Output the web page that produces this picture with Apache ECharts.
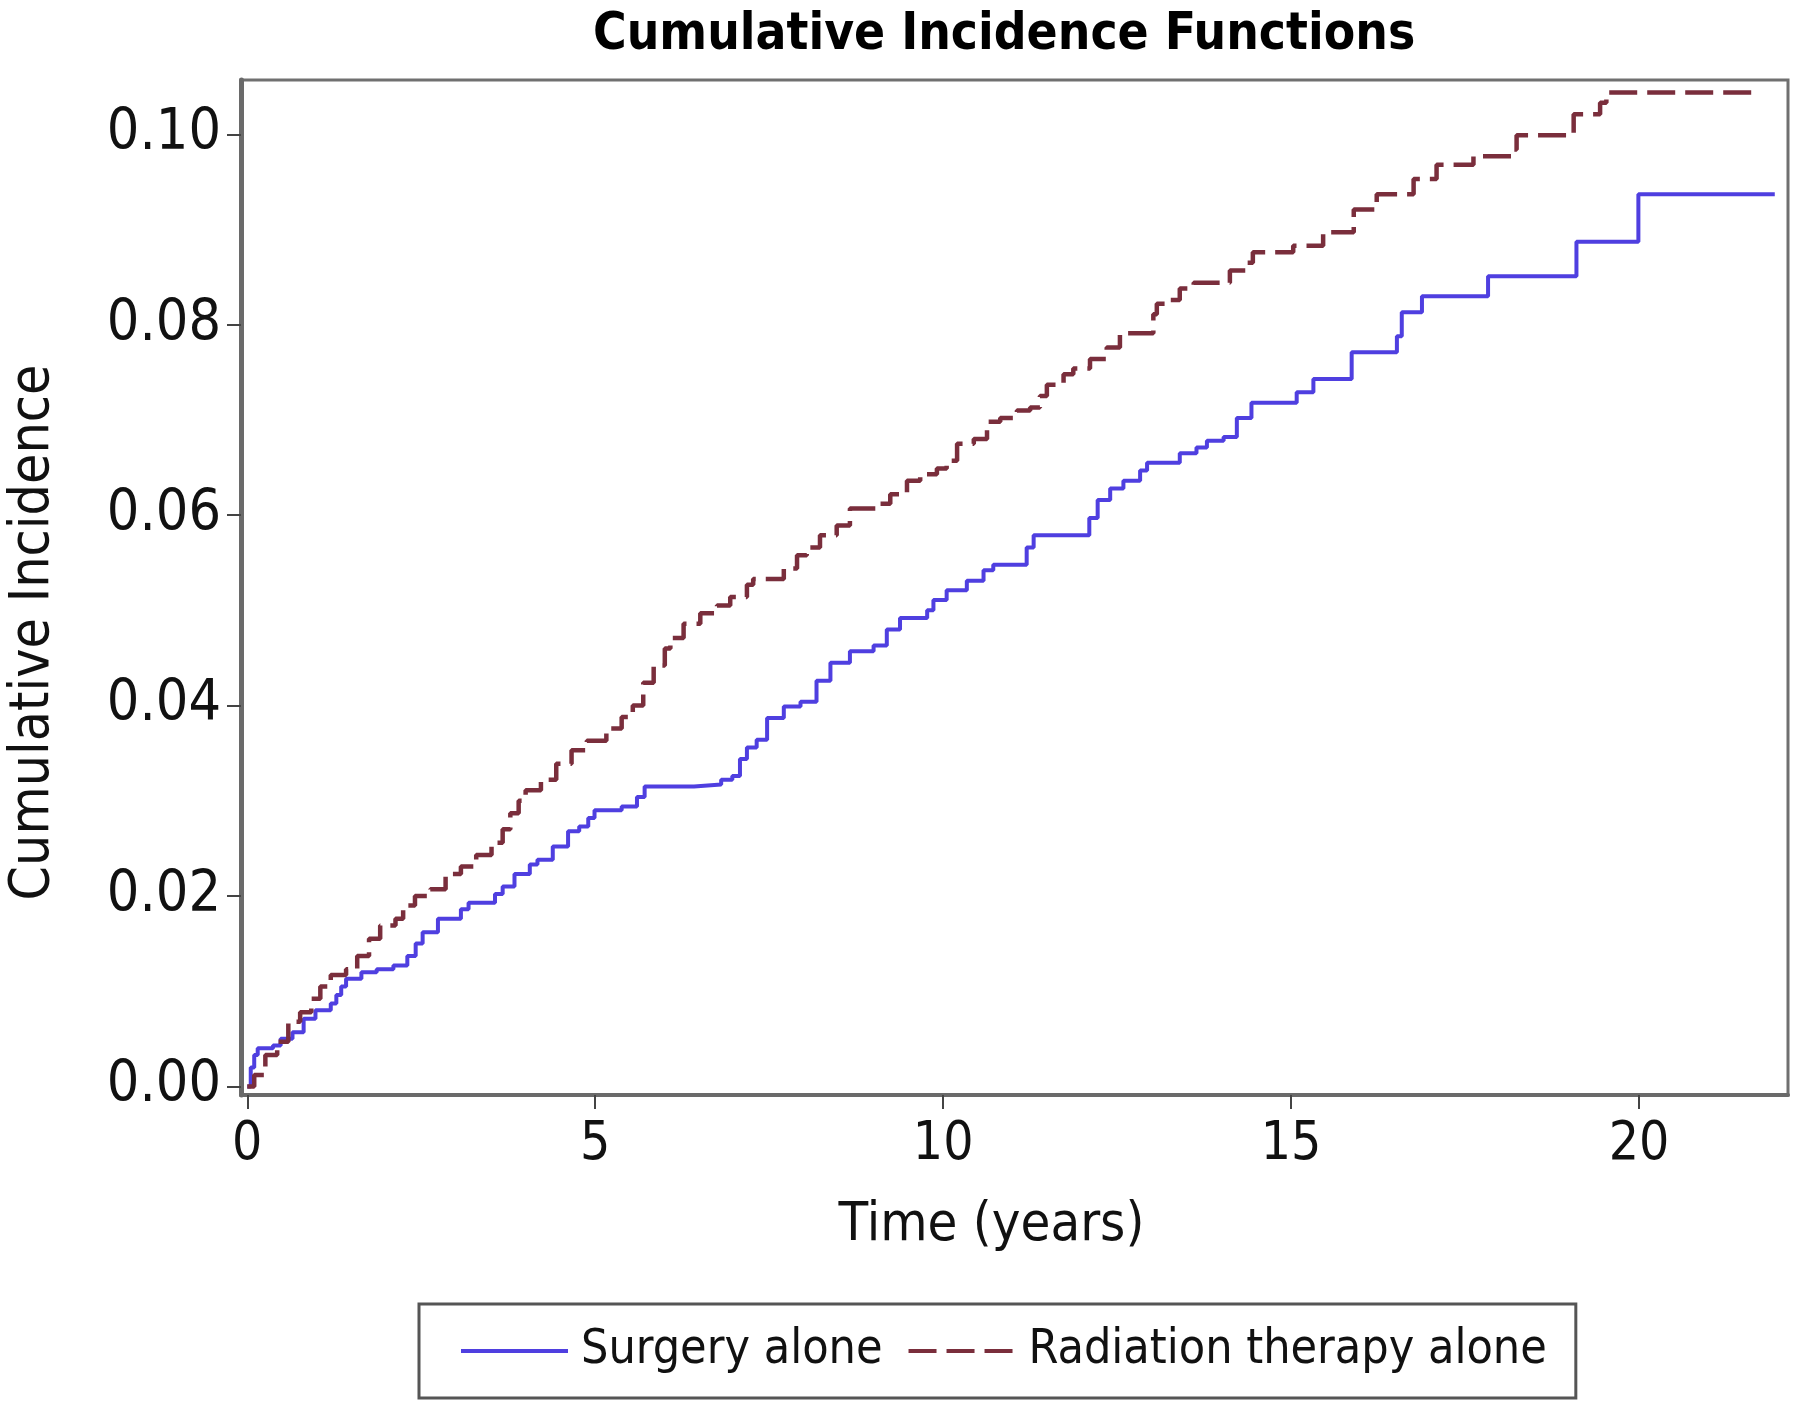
<!DOCTYPE html>
<html><head><meta charset="utf-8">
<script src="https://cdn.jsdelivr.net/npm/echarts@6/dist/echarts.min.js"></script>
<style>html,body{margin:0;padding:0;background:#fff}#c{width:1798px;height:1408px}</style>
</head><body><div id="c"></div>
<script>
const chartTitle = 'Cumulative Incidence Functions';
const xAxisTitle = 'Time (years)';
const yAxisTitle = 'Cumulative Incidence';
const seriesNames = ['Surgery alone', 'Radiation therapy alone'];
const xTicks = [0, 5, 10, 15, 20];
const yTicks = [0, 0.02, 0.04, 0.06, 0.08, 0.10];

const surgeryTime = [0, 0.05, 0.1, 0.15, 0.37, 0.48, 0.65, 0.81, 0.98, 1.2, 1.28, 1.35, 1.42, 1.64, 1.86, 2.1, 2.3, 2.42, 2.52, 2.74, 3.07, 3.18, 3.56, 3.67, 3.84, 4.06, 4.17, 4.39, 4.61, 4.77, 4.9, 4.99, 5.38, 5.6, 5.71, 6.42, 6.81, 6.97, 7.08, 7.18, 7.32, 7.47, 7.71, 7.95, 8.18, 8.38, 8.66, 9.0, 9.19, 9.38, 9.77, 9.86, 10.05, 10.34, 10.58, 10.72, 11.2, 11.3, 12.1, 12.22, 12.4, 12.59, 12.83, 12.93, 13.4, 13.64, 13.79, 14.03, 14.22, 14.43, 15.08, 15.32, 15.87, 16.52, 16.59, 16.88, 17.83, 19.1, 19.99, 21.95];
const surgeryCI = [0, 0.002, 0.0033, 0.004, 0.0043, 0.005, 0.0057, 0.0071, 0.008, 0.0087, 0.0096, 0.0105, 0.0113, 0.012, 0.0123, 0.0127, 0.0137, 0.015, 0.0162, 0.0176, 0.0186, 0.0193, 0.0202, 0.021, 0.0223, 0.0233, 0.0238, 0.0252, 0.0268, 0.0273, 0.0282, 0.029, 0.0294, 0.0304, 0.0315, 0.0317, 0.0322, 0.0326, 0.0344, 0.0356, 0.0364, 0.0387, 0.0399, 0.0404, 0.0426, 0.0445, 0.0457, 0.0463, 0.048, 0.0492, 0.05, 0.0511, 0.0521, 0.0531, 0.0542, 0.0548, 0.0566, 0.0579, 0.0597, 0.0616, 0.0628, 0.0636, 0.0647, 0.0655, 0.0665, 0.0671, 0.0678, 0.0682, 0.0702, 0.0718, 0.0729, 0.0743, 0.0771, 0.0788, 0.0813, 0.083, 0.0851, 0.0887, 0.0937, 0.0937];

const radiationTime = [0, 0.1, 0.26, 0.43, 0.59, 0.76, 0.92, 1.05, 1.2, 1.42, 1.58, 1.75, 1.91, 2.13, 2.24, 2.41, 2.63, 2.85, 3.07, 3.29, 3.51, 3.67, 3.78, 3.9, 4.0, 4.22, 4.44, 4.66, 4.88, 5.16, 5.38, 5.54, 5.69, 5.84, 6.0, 6.08, 6.27, 6.51, 6.75, 6.94, 7.18, 7.27, 7.71, 7.9, 8.04, 8.23, 8.47, 8.66, 9.05, 9.24, 9.48, 9.67, 9.91, 10.05, 10.2, 10.44, 10.63, 10.82, 11.06, 11.25, 11.39, 11.49, 11.73, 11.87, 12.11, 12.35, 12.54, 13.02, 13.07, 13.26, 13.4, 13.6, 14.12, 14.36, 14.45, 15.03, 15.46, 15.9, 16.23, 16.76, 17.09, 17.62, 18.19, 18.24, 19.06, 19.44, 19.53, 21.7];
const radiationCI = [0, 0.0012, 0.0033, 0.0047, 0.0068, 0.0078, 0.0092, 0.0105, 0.0117, 0.0123, 0.0137, 0.0155, 0.0169, 0.0176, 0.019, 0.02, 0.0207, 0.0223, 0.0231, 0.0243, 0.0256, 0.027, 0.0287, 0.03, 0.0311, 0.0322, 0.0339, 0.0353, 0.0363, 0.0376, 0.0388, 0.04, 0.0424, 0.0442, 0.046, 0.0471, 0.0486, 0.0497, 0.0505, 0.0514, 0.0527, 0.0533, 0.0544, 0.0558, 0.0566, 0.0579, 0.0589, 0.0607, 0.0612, 0.0622, 0.0636, 0.0643, 0.0649, 0.0657, 0.0675, 0.068, 0.0698, 0.0702, 0.071, 0.0713, 0.0725, 0.0737, 0.0748, 0.0754, 0.0764, 0.0776, 0.0791, 0.0811, 0.0822, 0.0826, 0.0838, 0.0844, 0.0857, 0.0865, 0.0876, 0.0883, 0.0897, 0.0921, 0.0937, 0.0953, 0.0968, 0.0977, 0.0984, 0.0999, 0.1021, 0.1033, 0.1044, 0.1044];

const FONT = 'DejaVu Sans Condensed';
const chart = echarts.init(document.getElementById('c'), null, {renderer: 'canvas'});
const pair = (xs, ys) => xs.map((x, i) => [x, ys[i]]);

chart.setOption({
  backgroundColor: '#ffffff',
  animation: false,
  title: {
    text: chartTitle, left: 588, top: 5,
    textStyle: {fontFamily: FONT, fontWeight: 'bold', fontSize: 51, color: '#000'}
  },
  grid: {
    left: 241, right: 10, top: 80, bottom: 313,
    outerBoundsMode: 'none', containLabel: false,
    show: true, borderColor: '#707070', borderWidth: 3, backgroundColor: '#fff'
  },
  xAxis: {
    type: 'value', min: -0.09, max: 22.14,
    name: xAxisTitle, nameLocation: 'middle', nameGap: 104,
    nameTextStyle: {fontFamily: FONT, fontSize: 54, color: '#111', padding: [0, 46, 0, 0]},
    splitLine: {show: false},
    axisLine: {show: true, onZero: false, lineStyle: {color: '#6a6a6a', width: 4}},
    axisTick: {show: true, customValues: xTicks, length: 14, lineStyle: {color: '#444', width: 2}},
    axisLabel: {
      customValues: xTicks, margin: 24,
      fontFamily: FONT, fontSize: 53,
      color: (v) => (v === 0 ? '#dedede' : '#111'),
      formatter: (v) => String(v)
    }
  },
  yAxis: {
    type: 'value', min: -0.0009, max: 0.1057,
    name: yAxisTitle, nameLocation: 'middle', nameGap: 180, nameRotate: 90,
    nameTextStyle: {fontFamily: FONT, fontSize: 55, color: '#111', padding: [0, 90, 0, 0]},
    splitLine: {show: false},
    axisLine: {show: true, onZero: false, lineStyle: {color: '#6a6a6a', width: 5}},
    axisTick: {show: true, customValues: yTicks, length: 14, lineStyle: {color: '#444', width: 2}},
    axisLabel: {
      customValues: yTicks, margin: 20,
      fontFamily: FONT, fontSize: 57, color: '#111',
      formatter: (v) => v.toFixed(2)
    }
  },
  legend: {
    left: 419, top: 1304,
    padding: [23, 29, 23, 40], itemGap: 24, itemWidth: 107, itemHeight: 20,
    borderColor: '#555', borderWidth: 3,
    itemStyle: {opacity: 0},
    lineStyle: {width: 4},
    textStyle: {fontFamily: FONT, fontSize: 48, color: '#111', padding: [0, 0, 0, 8]},
    data: seriesNames
  },
  series: [
    {
      name: seriesNames[0], type: 'line', step: 'end', symbol: 'none', showSymbol: false,
      data: pair(surgeryTime, surgeryCI),
      lineStyle: {color: '#4f3fe0', width: 4, type: 'solid'},
      itemStyle: {color: '#4f3fe0'}
    },
    {
      name: seriesNames[1], type: 'line', step: 'end', symbol: 'none', showSymbol: false,
      data: pair(radiationTime, radiationCI),
      lineStyle: {color: '#7a2e3c', width: 4.5, type: [28, 10]},
      itemStyle: {color: '#7a2e3c'}
    }
  ]
});
</script>
</body></html>
